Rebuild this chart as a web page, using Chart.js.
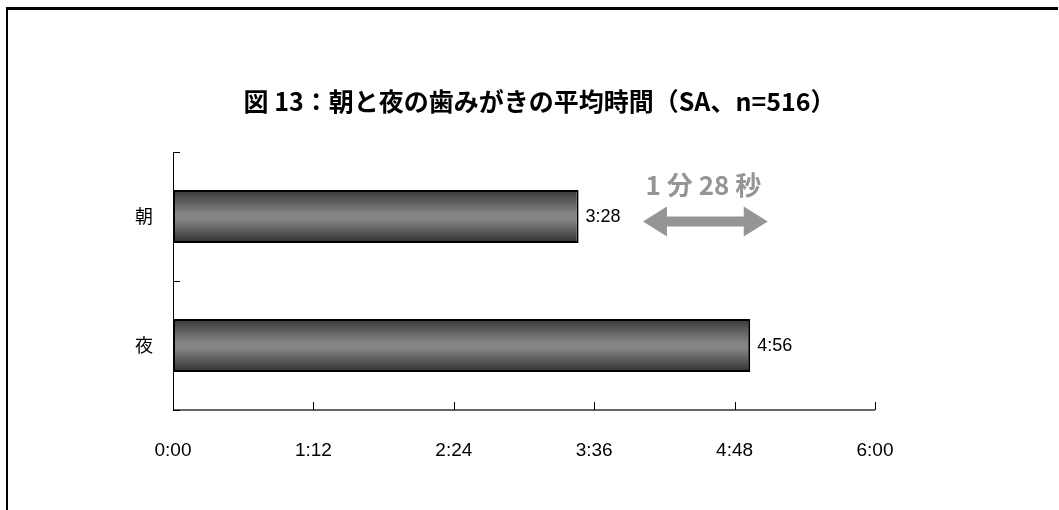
<!DOCTYPE html>
<html>
<head>
<meta charset="utf-8">
<script src="https://cdn.jsdelivr.net/npm/chart.js@4.4.1/dist/chart.umd.min.js"></script>
<style>
  html, body { margin: 0; padding: 0; background: #fff; overflow: hidden; }
  #wrap { position: relative; width: 1059px; height: 510px; }
  #frame { position: absolute; left: 6px; top: 7px; width: 1052px; height: 520px;
           border-left: 2px solid #000; border-top: 3px solid #000; box-sizing: border-box; }
  canvas { position: absolute; left: 0; top: 0; }
</style>
</head>
<body>
<div id="wrap">
  <div id="frame"></div>
  <canvas id="chart1" width="1059" height="510"></canvas>
</div>
<script>
// data (seconds)
const categories = ['朝', '夜'];
const avgSeconds = [208, 296];
const tickSeconds = [0, 72, 144, 216, 288, 360];
const titleText = '図 13：朝と夜の歯みがきの平均時間（SA、n=516）';
const diffLabel = '1 分 28 秒';
// arrow span, in seconds on the x scale
const arrowFrom = 241;
const arrowTo = 305;

const sans = '"Liberation Sans", Arial, sans-serif';
const jp = '"Noto Sans CJK JP", "Noto Sans", sans-serif';

function fmt(sec) {
  const m = Math.floor(sec / 60);
  const s = Math.round(sec % 60);
  return m + ':' + (s < 10 ? '0' + s : s);
}

function barFill(context) {
  const chart = context.chart;
  if (!chart.chartArea) return '#777';
  const y = chart.scales.y;
  const band = Math.abs(y.getPixelForValue(1) - y.getPixelForValue(0));
  const thick = band * 0.41;
  const cy = y.getPixelForValue(context.dataIndex);
  const g = chart.ctx.createLinearGradient(0, cy - thick / 2, 0, cy + thick / 2);
  g.addColorStop(0, '#363636');
  g.addColorStop(0.45, '#868686');
  g.addColorStop(0.55, '#868686');
  g.addColorStop(1, '#303030');
  return g;
}

// inside ticks, value labels and the difference arrow
const extras = {
  id: 'extras',
  afterDatasetsDraw(chart) {
    const ctx = chart.ctx;
    const xs = chart.scales.x, ys = chart.scales.y;
    const area = chart.chartArea;
    ctx.save();
    // axes
    ctx.strokeStyle = '#000';
    ctx.lineWidth = 1;
    ctx.beginPath();
    ctx.moveTo(area.left + 0.5, area.top);
    ctx.lineTo(area.left + 0.5, area.bottom);
    ctx.stroke();
    ctx.strokeStyle = '#666';
    ctx.lineWidth = 2;
    ctx.beginPath();
    ctx.moveTo(area.left, area.bottom);
    ctx.lineTo(area.right, area.bottom);
    ctx.stroke();
    ctx.lineWidth = 1;
    ctx.strokeStyle = '#000';
    tickSeconds.forEach(v => {
      const px = Math.round(xs.getPixelForValue(v)) + 0.5;
      ctx.beginPath();
      ctx.moveTo(px, area.bottom);
      ctx.lineTo(px, area.bottom - 8);
      ctx.stroke();
    });
    const band = (ys.getPixelForValue(1) - ys.getPixelForValue(0));
    for (let i = 0; i <= categories.length; i++) {
      const py = Math.round(ys.getPixelForValue(i) - band / 2) + 0.5;
      ctx.beginPath();
      ctx.moveTo(area.left, py);
      ctx.lineTo(area.left + 7, py);
      ctx.stroke();
    }
    // value labels
    ctx.fillStyle = '#000';
    ctx.font = '18px ' + sans;
    ctx.textAlign = 'left';
    ctx.textBaseline = 'middle';
    chart.getDatasetMeta(0).data.forEach((bar, i) => {
      ctx.fillText(fmt(avgSeconds[i]), bar.x + 7, bar.y + 1);
    });
    // difference arrow
    const x1 = xs.getPixelForValue(arrowFrom);
    const x2 = xs.getPixelForValue(arrowTo);
    const ay = ys.getPixelForValue(0) + 5;
    const head = 24, hh = 15, sh = 5;
    ctx.fillStyle = '#959595';
    ctx.beginPath();
    ctx.moveTo(x1, ay);
    ctx.lineTo(x1 + head, ay - hh);
    ctx.lineTo(x1 + head, ay - sh);
    ctx.lineTo(x2 - head, ay - sh);
    ctx.lineTo(x2 - head, ay - hh);
    ctx.lineTo(x2, ay);
    ctx.lineTo(x2 - head, ay + hh);
    ctx.lineTo(x2 - head, ay + sh);
    ctx.lineTo(x1 + head, ay + sh);
    ctx.lineTo(x1 + head, ay + hh);
    ctx.closePath();
    ctx.fill();
    ctx.font = 'bold 26px ' + jp;
    ctx.textAlign = 'center';
    ctx.textBaseline = 'middle';
    ctx.fillText(diffLabel, (x1 + x2) / 2 - 2, ay - 36);
    ctx.restore();
  }
};

document.addEventListener('DOMContentLoaded', function () {
  const ctx = document.getElementById('chart1').getContext('2d');
  new Chart(ctx, {
    type: 'bar',
    data: {
      labels: categories,
      datasets: [{
        data: avgSeconds,
        backgroundColor: barFill,
        borderColor: '#000',
        borderWidth: 2,
        borderSkipped: false,
        barPercentage: 0.41,
        categoryPercentage: 1.0
      }]
    },
    options: {
      indexAxis: 'y',
      responsive: false,
      animation: false,
      layout: { padding: { left: 20, right: 0, top: 0, bottom: 0 } },
      plugins: {
        legend: { display: false },
        tooltip: { enabled: false },
        title: {
          display: true,
          text: titleText,
          color: '#000',
          font: { family: jp, size: 25, weight: 'bold' },
          padding: { top: 86, bottom: 36 }
        }
      },
      scales: {
        x: {
          type: 'linear',
          min: 0,
          max: 360,
          afterBuildTicks: s => { s.ticks = tickSeconds.map(v => ({ value: v })); },
          afterFit: s => { s.height = 100; },
          border: { display: false },
          grid: { display: false, drawTicks: false },
          ticks: {
            color: '#000',
            font: { family: sans, size: 19 },
            padding: 29,
            maxRotation: 0,
            callback: v => fmt(v)
          }
        },
        y: {
          afterFit: s => { s.width = 153; },
          border: { display: false },
          grid: { display: false, drawTicks: false },
          ticks: {
            color: '#000',
            font: { family: jp, size: 18 },
            padding: 20
          }
        },
        // empty right-hand scale that only keeps the right margin
        yRight: {
          type: 'category',
          position: 'right',
          labels: [],
          afterFit: s => { s.width = 184; },
          border: { display: false },
          grid: { display: false, drawTicks: false },
          ticks: { display: false }
        }
      }
    },
    plugins: [extras]
  });
});
</script>
</body>
</html>
